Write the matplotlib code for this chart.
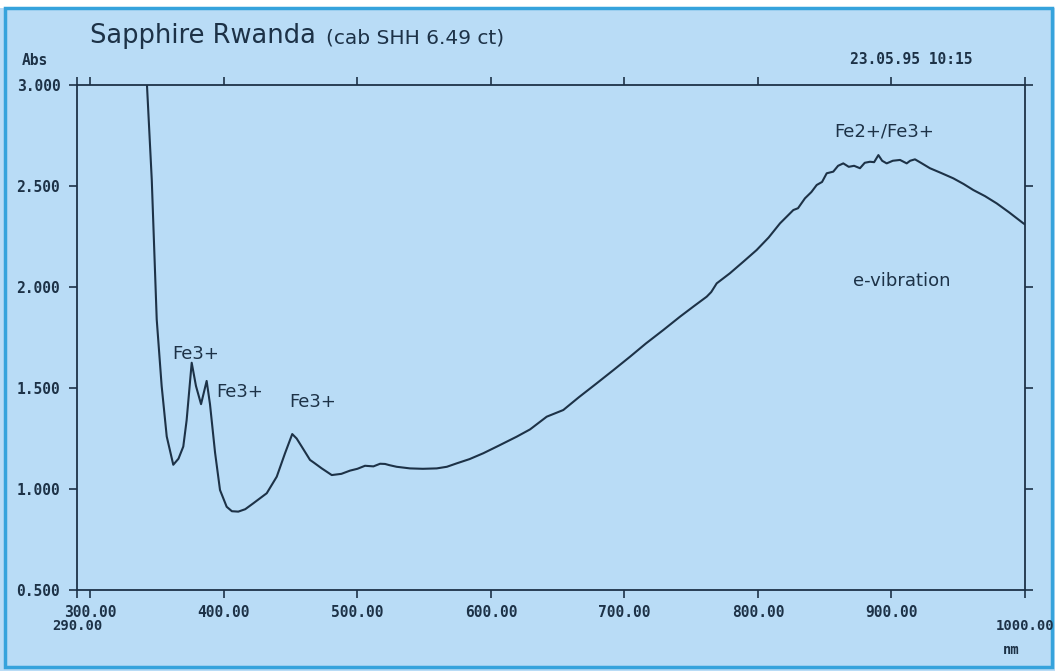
import numpy as np
import matplotlib
matplotlib.use('Agg')
import matplotlib.pyplot as plt
from matplotlib.patches import Rectangle

# Absorptionsspektrum, Werte
wl = [340, 342.4, 346, 349.7, 353.4, 357.2, 362.1, 366, 369.6, 372.1, 375.9,
      379.1, 382.9, 387.1, 389.6, 393.4, 397.1, 402.1, 406, 410.8, 416,
      422.0, 432.1, 439.6, 445.8, 451.2, 454.5, 458.3, 464.5, 467.5, 473.3,
      480.8, 488, 494.5, 500, 505.7, 512, 517, 520.7, 524, 529.4, 539.4,
      549, 559.4, 567, 574.4, 584, 594.3, 606, 619.3, 629.3, 641.8, 654.2,
      666, 679.2, 692, 704.2, 716, 729.1, 741.6, 752, 761.6, 765, 769.1,
      779, 789, 799, 808, 816.5, 826.5, 830, 835.2, 840, 844, 848, 851.5,
      856.4, 860, 863.9, 868, 872, 876.4, 880, 883.9, 887, 890.2, 893,
      896.4, 901, 906.4, 911.4, 914, 917.6, 922, 928.8, 937, 946.3, 954,
      961.3, 970, 978.8, 988, 998.8, 1000]
absorb = [3.20, 3.00, 2.53, 1.84, 1.51, 1.26, 1.12, 1.15, 1.21, 1.34, 1.625,
          1.51, 1.42, 1.535, 1.42, 1.18, 0.995, 0.912, 0.89, 0.888, 0.90,
          0.929, 0.979, 1.061, 1.177, 1.272, 1.25, 1.21, 1.144, 1.13, 1.102,
          1.069, 1.075, 1.091, 1.10, 1.115, 1.112, 1.125, 1.124, 1.118, 1.11,
          1.102, 1.10, 1.102, 1.11, 1.127, 1.148, 1.177, 1.215, 1.259, 1.295,
          1.358, 1.391, 1.455, 1.523, 1.59, 1.655, 1.72, 1.787, 1.853, 1.905,
          1.952, 1.975, 2.018, 2.068, 2.125, 2.183, 2.245, 2.315, 2.381,
          2.39, 2.439, 2.47, 2.505, 2.52, 2.563, 2.571, 2.60, 2.612, 2.595,
          2.60, 2.588, 2.615, 2.620, 2.618, 2.653, 2.625, 2.612, 2.625,
          2.629, 2.612, 2.625, 2.632, 2.615, 2.588, 2.565, 2.538, 2.51,
          2.480, 2.45, 2.414, 2.37, 2.315, 2.31]

xticks = [300, 400, 500, 600, 700, 800, 900]
xlabels = ['300.00', '400.00', '500.00', '600.00', '700.00', '800.00', '900.00']
xends = [290, 1000]
xend_labels = ['290.00', '1000.00']
yticks = [0.5, 1.0, 1.5, 2.0, 2.5, 3.0]

peaks = [('Fe3+', 361.5, 1.67), ('Fe3+', 394.4, 1.48), ('Fe3+', 449.3, 1.43),
         ('Fe2+/Fe3+', 857, 2.77), ('e-vibration', 871.5, 2.03)]

ink = '#1d3247'
bg = '#b9dcf6'
mono = ['DejaVu Sans Mono']

fig = plt.figure(figsize=(10.55, 6.71), dpi=100)
fig.patch.set_facecolor(bg)
# weisser Rand oben + blaue Umrandung
fig.add_artist(Rectangle((0, 1 - 8 / 671), 1, 8 / 671, transform=fig.transFigure,
                         facecolor='white', edgecolor='none', zorder=0))
fig.add_artist(Rectangle((5 / 1055, 4 / 671), 1047 / 1055, 659 / 671,
                         transform=fig.transFigure, facecolor='none',
                         edgecolor='#36a3dc', linewidth=2.5, zorder=0))

ax = fig.add_axes([77 / 1055, 1 - 590 / 671, 948 / 1055, 505 / 671])
ax.set_facecolor(bg)
ax.plot(wl, absorb, color=ink, lw=1.5, clip_on=True)

ax.set_xlim(290, 1000)
ax.set_ylim(0.5, 3.0)
ax.set_xticks(xticks)
ax.set_xticklabels(xlabels, fontfamily=mono, fontweight='bold', fontsize=10.5, color=ink)
ax.set_xticks(xends, minor=True)
ax.set_xticklabels(xend_labels, minor=True, fontfamily=mono, fontweight='bold',
                   fontsize=10, color=ink)
ax.set_yticks(yticks)
ax.set_yticklabels(['%.3f' % v for v in yticks], fontfamily=mono,
                   fontweight='bold', fontsize=10.5, color=ink)
ax.tick_params(axis='both', which='both', direction='out', length=6, width=1.2,
               color=ink, top=True, right=True, labeltop=False, labelright=False)
ax.tick_params(axis='x', which='major', pad=5)
ax.tick_params(axis='x', which='minor', pad=15)
ax.tick_params(axis='y', pad=6)
for s in ax.spines.values():
    s.set_color(ink)
    s.set_linewidth(1.3)

ax.text(0.986, -0.118, 'nm', transform=ax.transAxes, ha='center', va='center',
        fontfamily=mono, fontweight='bold', fontsize=10, color=ink)
ax.text(-0.058, 1.048, 'Abs', transform=ax.transAxes, ha='left', va='center',
        fontfamily=mono, fontweight='bold', fontsize=10.5, color=ink)
ax.text(0.945, 1.05, '23.05.95 10:15', transform=ax.transAxes, ha='right',
        va='center', fontfamily=mono, fontweight='bold', fontsize=10.5, color=ink)

fig.text(90 / 1055, 1 - 43 / 671, 'Sapphire Rwanda', ha='left', va='baseline',
         fontsize=18.5, color=ink)
fig.text(326 / 1055, 1 - 43 / 671, '(cab SHH 6.49 ct)', ha='left', va='baseline',
         fontsize=14.5, color=ink)

for txt, x, y in peaks:
    ax.text(x, y, txt, ha='left', va='center', fontsize=13, color=ink)

fig.savefig('out.png', dpi=100, facecolor=bg)
